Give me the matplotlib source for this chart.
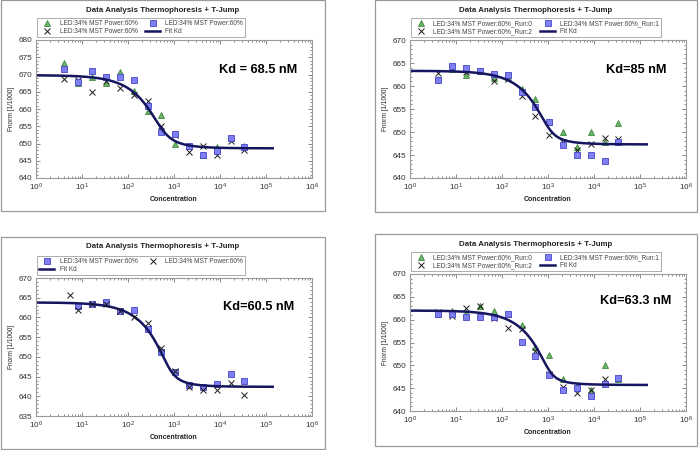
import numpy as np
import matplotlib
matplotlib.use("Agg")
import matplotlib.pyplot as plt
from matplotlib.patches import Rectangle
from matplotlib.ticker import MultipleLocator, FixedLocator, NullFormatter

plt.rcParams["font.family"] = ["Liberation Sans", "DejaVu Sans"]
plt.rcParams["mathtext.default"] = "regular"

# dilution series (nM)
conc = [4.15, 8.3, 16.6, 33.2, 66.4, 133, 266, 531, 1063, 2125, 4250, 8500, 17000, 34000]
conc_x3 = [5.5] + conc[1:]  # panel 3 crosses start a bit later
conc_sq3 = conc[1:]

# panel 1
p1_tri = [673.2, 667.4, 669.2, 667.6, 670.8, 665.3, 659.4, 658.4, 649.9, 649.3, 646.8, 648.9, 651.7, 649.2]
p1_sq = [671.5, 667.8, 670.9, 669.2, 669.2, 668.3, 661.0, 653.2, 652.8, 649.3, 646.8, 647.7, 651.5, 649.0]
p1_x = [668.7, 668.4, 664.8, 668.0, 666.1, 664.1, 662.4, 655.1, 652.5, 647.4, 649.2, 646.6, 650.8, 648.2]

# panel 2
p2_tri = [661.5, 663.7, 662.3, 663.3, 661.8, 661.9, 659.3, 657.1, 652.1, 649.9, 646.8, 650.0, 647.9, 651.9]
p2_sq = [661.3, 664.3, 664.0, 663.3, 662.6, 662.4, 658.7, 655.5, 652.1, 647.1, 645.0, 645.0, 643.8, 647.8]
p2_x = [662.9, 663.9, 663.1, 663.2, 661.1, 661.6, 657.8, 653.5, 649.4, 647.8, 646.1, 647.3, 648.6, 648.5]

# panel 3
p3_sq = [662.8, 663.5, 663.8, 661.7, 661.9, 657.1, 651.2, 646.2, 642.8, 642.3, 643.0, 645.6, 643.8]
p3_x = [665.7, 662.0, 663.5, 663.5, 661.7, 660.1, 658.6, 652.2, 646.5, 642.3, 641.6, 641.5, 643.4, 640.2]

# panel 4
p4_tri = [661.3, 662.0, 661.5, 663.0, 662.0, 661.2, 658.9, 654.1, 652.3, 647.0, 645.7, 644.7, 650.0, 646.9]
p4_sq = [661.3, 661.3, 660.6, 660.6, 660.6, 661.2, 655.2, 652.1, 647.9, 644.5, 645.0, 643.2, 645.9, 647.2]
p4_x = [661.6, 660.8, 662.5, 663.0, 660.4, 658.1, 657.9, 653.2, 648.2, 645.3, 644.0, 644.6, 647.0, 647.3]

# fit parameters: Kd, target conc, unbound, bound
kd_values = [68.5, 85, 60.5, 63.3]
kd_labels = ["Kd = 68.5 nM", "Kd=85 nM", "Kd=60.5 nM", "Kd=63.3 nM"]
fit_target = [480, 950, 735, 1000]
fit_unbound = [669.8, 663.3, 663.8, 662.0]
fit_bound = [648.6, 647.3, 642.4, 645.7]
ylims = [(640, 680), (640, 670), (635, 670), (640, 670)]
x_major = [1, 10, 100, 1e3, 1e4, 1e5, 1e6]

TITLE = "Data Analysis Thermophoresis + T-Jump"
LED = "LED:34% MST Power:60%"


def kd_model(c, kd, target, unbound, bound):
    s = c + target + kd
    frac = (s - np.sqrt(s ** 2 - 4 * c * target)) / (2 * target)
    return unbound + (bound - unbound) * frac


tri_kw = dict(marker="^", ls="none", ms=4, mfc="#6db36a", mec="#3f8a3d", mew=0.6)
sq_kw = dict(marker="s", ls="none", ms=4.2, mfc="#7f7ff2", mec="#4646c8", mew=0.6)
x_kw = dict(marker="x", ls="none", ms=4.5, color="#1a1a1a", mew=0.7)
fit_kw = dict(color="#151560", lw=1.8)

fig = plt.figure(figsize=(7, 4.5), dpi=100)

# panel geometry in pixels: box (x0, y0, x1, y1), axes (x0, y0, x1, y1)
boxes = [(1, 0, 325, 211), (375, 0, 697, 212), (1, 237, 325, 449), (375, 234, 697, 446)]
axes_px = [(36, 40, 312, 178), (410, 40, 686, 178), (36, 278, 312, 416), (410, 274, 686, 411)]
kd_pos = [(258, 70), (636, 70), (259, 307), (636, 301)]

W, H = 700.0, 450.0
axs = []
for i in range(4):
    bx0, by0, bx1, by1 = boxes[i]
    fig.patches.append(Rectangle((bx0 / W, 1 - by1 / H), (bx1 - bx0) / W, (by1 - by0) / H,
                                 transform=fig.transFigure, fill=False, ec="#9a9a9a", lw=0.9))
    ax0, ay0, ax1, ay1 = axes_px[i]
    ax = fig.add_axes([ax0 / W, 1 - ay1 / H, (ax1 - ax0) / W, (ay1 - ay0) / H])
    axs.append(ax)
    fig.text((bx0 + bx1) / 2 / W, 1 - (by0 + 10) / H, TITLE, ha="center", va="center",
             fontsize=5.7, fontweight="bold", color="#222222")
    fig.text(kd_pos[i][0] / W, 1 - kd_pos[i][1] / H, kd_labels[i], ha="center", va="center",
             fontsize=9.2, fontweight="bold", color="black")

xfit = np.logspace(0, np.log10(1.4e5), 300)

# panel 1
ax = axs[0]
ax.plot(conc, p1_tri, label=LED, **tri_kw)
ax.plot(conc, p1_x, label=LED, **x_kw)
ax.plot(conc, p1_sq, label=LED, **sq_kw)
ax.plot(xfit, kd_model(xfit, kd_values[0], fit_target[0], fit_unbound[0], fit_bound[0]), label="Fit Kd", **fit_kw)

# panel 2
ax = axs[1]
ax.plot(conc, p2_tri, label=LED + "_Run:0", **tri_kw)
ax.plot(conc, p2_x, label=LED + "_Run:2", **x_kw)
ax.plot(conc, p2_sq, label=LED + "_Run:1", **sq_kw)
ax.plot(xfit, kd_model(xfit, kd_values[1], fit_target[1], fit_unbound[1], fit_bound[1]), label="Fit Kd", **fit_kw)

# panel 3
ax = axs[2]
ax.plot(conc_sq3, p3_sq, label=LED, **sq_kw)
ax.plot(xfit, kd_model(xfit, kd_values[2], fit_target[2], fit_unbound[2], fit_bound[2]), label="Fit Kd", **fit_kw)
ax.plot(conc_x3, p3_x, label=LED, **x_kw)

# panel 4
ax = axs[3]
ax.plot(conc, p4_tri, label=LED + "_Run:0", **tri_kw)
ax.plot(conc, p4_x, label=LED + "_Run:2", **x_kw)
ax.plot(conc, p4_sq, label=LED + "_Run:1", **sq_kw)
ax.plot(xfit, kd_model(xfit, kd_values[3], fit_target[3], fit_unbound[3], fit_bound[3]), label="Fit Kd", **fit_kw)

minor_x = [m * d for d in x_major[:-1] for m in range(2, 10)]

for i, ax in enumerate(axs):
    ax.set_xscale("log")
    ax.set_xlim(1, 1e6)
    ax.set_ylim(*ylims[i])
    ax.xaxis.set_major_locator(FixedLocator(x_major))
    ax.xaxis.set_minor_locator(FixedLocator(minor_x))
    ax.xaxis.set_minor_formatter(NullFormatter())
    ax.yaxis.set_major_locator(MultipleLocator(5))
    ax.yaxis.set_minor_locator(MultipleLocator(1))
    ax.tick_params(which="both", direction="in", top=True, right=True, color="#777777",
                   labelsize=5.9, labelcolor="#333333", pad=2.5, width=0.6)
    ax.tick_params(which="major", length=3)
    ax.tick_params(which="minor", length=1.6)
    for sp in ax.spines.values():
        sp.set_color("#9a9a9a")
        sp.set_linewidth(0.8)
    ax.set_xlabel("Concentration", fontsize=5.0, fontweight="bold", color="#222222", labelpad=2)
    ax.set_ylabel("Fnorm [1/1000]", fontsize=4.7, color="#222222", labelpad=3)
    leg = ax.legend(ncol=2, loc="lower left", bbox_to_anchor=(0.0, 1.01), fontsize=4.7,
                    frameon=True, fancybox=False, edgecolor="#888888", borderpad=0.3,
                    handlelength=2.3, handletextpad=0.8, columnspacing=1.2, labelspacing=0.2,
                    borderaxespad=0.2)
    leg.get_frame().set_linewidth(0.6)
    for t in leg.get_texts():
        t.set_color("#444444")

fig.savefig("out.png", dpi=100)
